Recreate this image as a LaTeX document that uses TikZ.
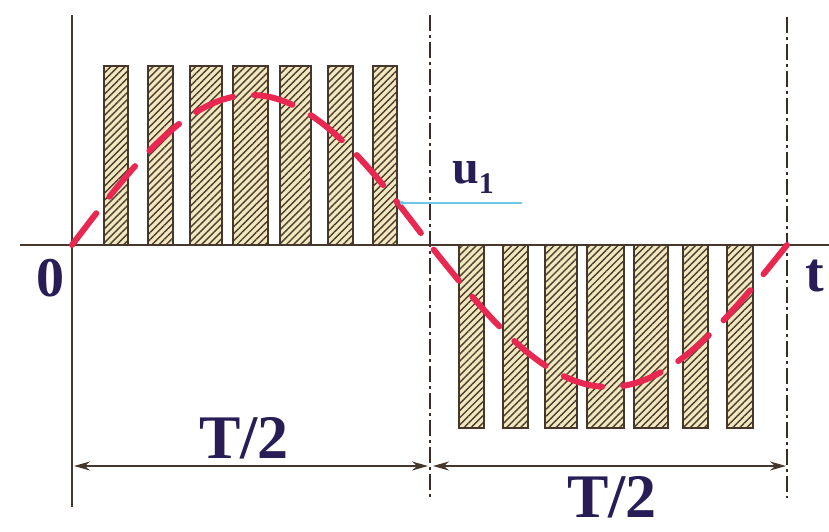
\documentclass[tikz,border=0pt]{standalone}
\usepackage{fontspec}
\setmainfont{Liberation Serif}
\usetikzlibrary{patterns.meta,arrows.meta}
\definecolor{axisbrown}{RGB}{70,55,45}
\definecolor{barfill}{RGB}{242,232,192}
\definecolor{hatchc}{RGB}{75,60,45}
\definecolor{wave}{RGB}{232,40,80}
\definecolor{labelnavy}{RGB}{40,30,85}
\definecolor{leader}{RGB}{110,200,230}
\begin{document}
\begin{tikzpicture}[x=1pt,y=-1pt,
  axis/.style={draw=axisbrown,line width=2pt},
  barbox/.style={draw=axisbrown,line width=2.4pt,preaction={fill=barfill},
    pattern={Lines[angle=45,distance=5pt,line width=1.4pt]},pattern color=hatchc},
  wavecurve/.style={draw=wave,line width=6pt,dash pattern=on 40pt off 21pt,line cap=round},
  periodline/.style={draw=axisbrown!80!black,line width=1.5pt,dash pattern=on 16pt off 4pt on 3pt off 4pt},
  dimarrow/.style={draw=axisbrown,line width=1.8pt,{Stealth[length=16pt,width=9pt]}-{Stealth[length=16pt,width=9pt]}},
  lbl/.style={text=labelnavy,font=\bfseries\fontsize{56}{56}\selectfont,inner sep=0pt},
  tlbl/.style={text=labelnavy,font=\bfseries\fontsize{62}{62}\selectfont,inner sep=0pt}
]
\useasboundingbox (0,0) rectangle (829,531);
\fill[white] (0,0) rectangle (829,531);

% positive bars
\foreach \a/\b in {104/128,148/173,190/222,233/268,280/311,328/353,373/397}
  \draw[barbox] (\a,66) rectangle (\b,245);
% negative bars
\foreach \a/\b in {459/484,503/528,545/577,587/624,634/668,683/708,727/753}
  \draw[barbox] (\a,245) rectangle (\b,428);

% period lines
\coordinate (p0t) at (72,15);
\coordinate (p0b) at (72,507);
\coordinate (p1t) at (430,15);
\coordinate (p1b) at (430,498);
\coordinate (p2t) at (787,17);
\coordinate (p2b) at (787,498);
\draw[periodline] (p1t) -- (p1b);
\draw[periodline] (p2t) -- (p2b);

% axes
\coordinate (xl) at (20,245);
\coordinate (xr) at (829,245);
\draw[axis] (xl) -- (xr);
\draw[axis] (p0t) -- (p0b);

% sine wave
\draw[wavecurve] plot[domain=72:430,samples=60,smooth] (\x,{245-150*sin(0.50279*(\x-72))})
  -- plot[domain=430:787,samples=60,smooth] (\x,{245+142*sin(0.504202*(\x-430))});

% u1 leader
\coordinate (ucurve) at (402,203);
\coordinate (uend) at (522,203);
\draw[leader,line width=1.2pt] (ucurve) -- (uend);
\fill[leader] (ucurve) circle (2pt);
\node[lbl,font=\bfseries\fontsize{48}{48}\selectfont,anchor=base west] (u1) at (452,183) {u\raisebox{-0.22em}{\fontsize{30}{30}\selectfont 1}};

% axis labels
\node[lbl] (zero) at (50,278) {0};
\node[lbl] (tlab) at (815,276) {t};

% dimension arrows
\coordinate (a0) at (74,466);
\coordinate (a1l) at (428,466);
\coordinate (a1r) at (433,466);
\coordinate (a2) at (786,466);
\draw[dimarrow] (a0) -- (a1l);
\draw[dimarrow] (a1r) -- (a2);
\node[tlbl] (half1) at (244,438) {T/2};
\node[tlbl] (half2) at (612,497) {T/2};
\end{tikzpicture}
\end{document}
